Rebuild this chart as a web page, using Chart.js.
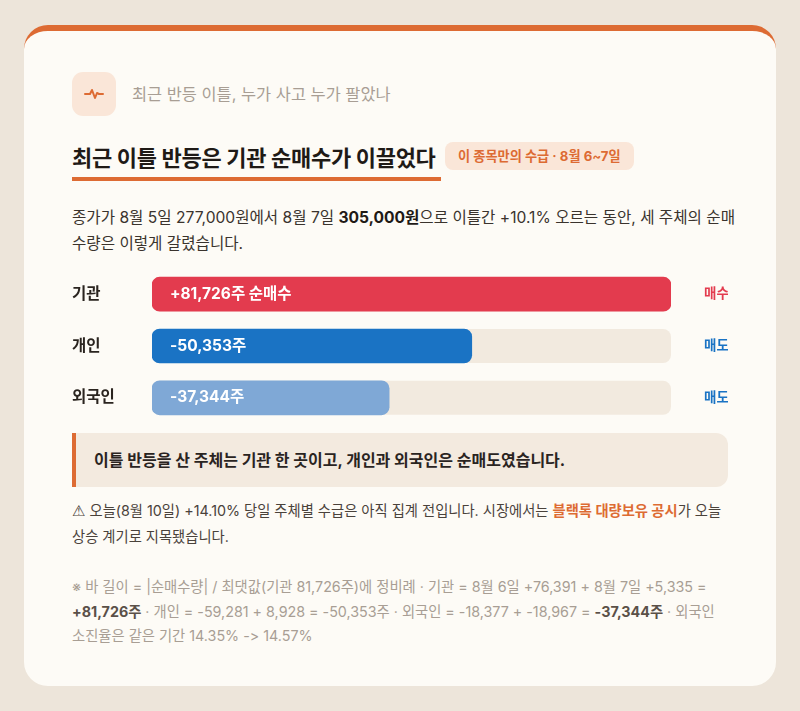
<!DOCTYPE html>
<html lang="ko">
<head>
<meta charset="utf-8">
<script src="https://cdn.jsdelivr.net/npm/chart.js@4.4.1/dist/chart.umd.min.js"></script>
<style>
  html,body{margin:0;padding:0;}
  body{width:800px;height:711px;background:#EDE5DA;font-family:Inter,"Noto Sans CJK KR","Noto Sans",sans-serif;position:relative;overflow:hidden;}
  .card{position:absolute;left:24px;top:25px;width:752px;height:655px;background:#FDFBF6;border-top:6px solid #DD6B33;border-radius:24px;}
  .abs{position:absolute;}
  .icon{left:48px;top:41px;width:44px;height:44px;border-radius:11px;background:#FAE6D8;}
  .sub{left:108px;top:52px;font-size:16.4px;color:#A89E94;line-height:22px;}
  .title{left:48px;top:111px;font-size:22px;font-weight:700;color:#1f1a16;line-height:32px;letter-spacing:-0.3px;}
  .uline{left:48px;top:146px;width:369px;height:4px;background:#DD6B33;}
  .badge{left:421px;top:111px;height:28px;padding:0 13px;border-radius:8px;background:#FAE6D8;color:#DD6B33;font-size:13.2px;font-weight:700;line-height:28px;}
  .para{left:48px;top:174px;width:665px;font-size:15.6px;color:#3a332d;line-height:26px;}
  .para b{color:#1f1a16;}
  #chartWrap{left:48px;top:228px;width:656px;height:174px;}
  .callout{left:48px;top:402px;width:634px;height:54px;background:#F3EADF;border-left:4px solid #DD6B33;border-radius:0 12px 12px 0;padding-left:18px;font-size:16px;font-weight:700;color:#2a241f;line-height:54px;}
  .warn{left:48px;top:467px;width:665px;font-size:14.3px;color:#4a423b;line-height:25px;word-break:keep-all;}
  .warn b{color:#DD6B33;}
  .warn .sym{font-family:"DejaVu Sans",sans-serif;font-size:15px;font-weight:700;}
  .foot{left:48px;top:544px;width:665px;font-size:14.3px;color:#A89E94;line-height:24.5px;word-break:keep-all;}
  .foot b{color:#5a5048;}
</style>
</head>
<body>
<div class="card">
  <div class="abs icon">
    <svg width="44" height="44" viewBox="0 0 44 44"><polyline points="13,22 18,22 20,18 23,26 25,21 27,22 31,22" fill="none" stroke="#DD6B33" stroke-width="2" stroke-linejoin="round" stroke-linecap="round"/></svg>
  </div>
  <div class="abs sub">최근 반등 이틀, 누가 사고 누가 팔았나</div>
  <div class="abs title">최근 이틀 반등은 기관 순매수가 이끌었다</div>
  <div class="abs uline"></div>
  <div class="abs badge">이 종목만의 수급 · 8월 6~7일</div>
  <div class="abs para">종가가 8월 5일 277,000원에서 8월 7일 <b>305,000원</b>으로 이틀간 +10.1% 오르는 동안, 세 주체의 순매수량은 이렇게 갈렸습니다.</div>
  <div class="abs" id="chartWrap"><canvas id="c"></canvas></div>
  <div class="abs callout">이틀 반등을 산 주체는 기관 한 곳이고, 개인과 외국인은 순매도였습니다.</div>
  <div class="abs warn"><span class="sym">⚠</span> 오늘(8월 10일) +14.10% 당일 주체별 수급은 아직 집계 전입니다. 시장에서는 <b>블랙록 대량보유 공시</b>가 오늘 상승 계기로 지목됐습니다.</div>
  <div class="abs foot">※ 바 길이 = |순매수량| / 최댓값(기관 81,726주)에 정비례 · 기관 = 8월 6일 +76,391 + 8월 7일 +5,335 = <b>+81,726주</b> · 개인 = -59,281 + 8,928 = -50,353주 · 외국인 = -18,377 + -18,967 = <b>-37,344주</b> · 외국인 소진율은 같은 기간 14.35% -&gt; 14.57%</div>
</div>
<script>
const categories = ["기관", "개인", "외국인"];
const netVolume = [81726, -50353, -37344];
const valueLabels = ["+81,726주 순매수", "-50,353주", "-37,344주"];
const sideLabels = ["매수", "매도", "매도"];
const barColors = ["#E33B4E", "#1A73C4", "#7FA8D6"];
const sideColors = ["#E33B4E", "#1A73C4", "#1A73C4"];
const maxAbs = 81726;

const FONT = 'Inter,"Noto Sans CJK KR","Noto Sans",sans-serif';

const decor = {
  id: 'decor',
  beforeDatasetsDraw(chart) {
    const {ctx, scales:{x}} = chart;
    const meta = chart.getDatasetMeta(0);
    ctx.save();
    ctx.fillStyle = '#F2EADF';
    meta.data.forEach(bar => {
      const h = bar.height;
      ctx.beginPath();
      ctx.roundRect(x.left, bar.y - h/2, x.right - x.left, h, 8);
      ctx.fill();
    });
    ctx.restore();
  },
  afterDatasetsDraw(chart) {
    const {ctx, scales:{x}} = chart;
    const meta = chart.getDatasetMeta(0);
    ctx.save();
    ctx.textBaseline = 'middle';
    meta.data.forEach((bar, i) => {
      ctx.fillStyle = '#ffffff';
      ctx.font = 'bold 15.5px ' + FONT;
      ctx.textAlign = 'left';
      ctx.fillText(valueLabels[i], x.left + 18, bar.y);
      ctx.fillStyle = sideColors[i];
      ctx.font = 'bold 13.5px ' + FONT;
      ctx.fillText(sideLabels[i], x.right + 33, bar.y);
    });
    ctx.restore();
  }
};

new Chart(document.getElementById('c'), {
  type: 'bar',
  data: {
    labels: categories,
    datasets: [{
      data: netVolume.map(v => Math.abs(v)),
      backgroundColor: barColors,
      borderRadius: 8,
      borderSkipped: false,
      barThickness: 34
    }]
  },
  options: {
    indexAxis: 'y',
    responsive: true,
    maintainAspectRatio: false,
    animation: false,
    layout: { padding: { left: 0, right: 57, top: 0, bottom: 0 } },
    plugins: { legend: { display: false }, tooltip: { enabled: false } },
    scales: {
      x: { display: false, min: 0, max: maxAbs },
      y: {
        grid: { display: false, drawTicks: false },
        border: { display: false },
        afterFit(s) { s.width = 80; },
        ticks: {
          crossAlign: 'far',
          padding: 0,
          color: '#2a241f',
          font: { family: FONT, size: 15.5, weight: 'bold' }
        }
      }
    }
  },
  plugins: [decor]
});
</script>
</body>
</html>
